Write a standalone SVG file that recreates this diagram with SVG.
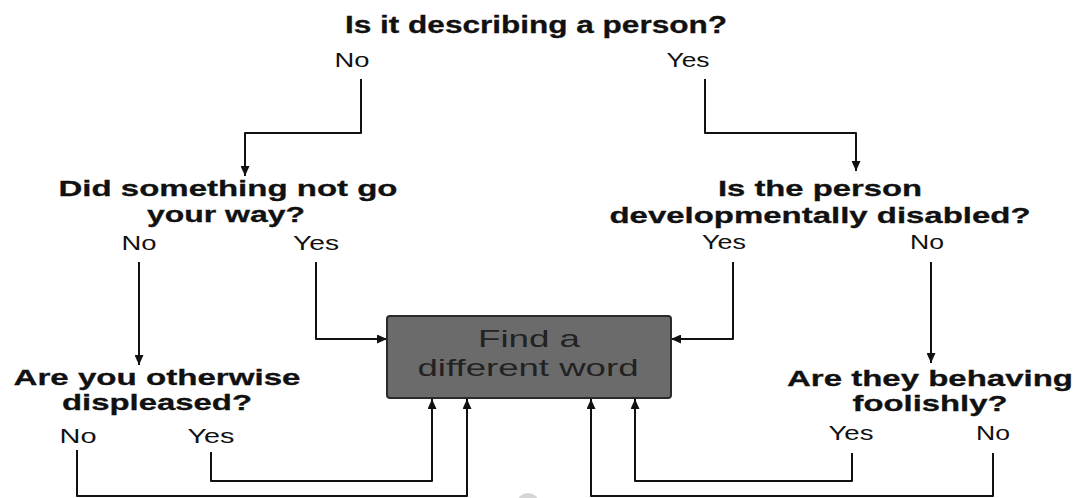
<svg xmlns="http://www.w3.org/2000/svg" width="1092" height="498" viewBox="0 0 1092 498">
<style>
.q{font-family:"Liberation Sans",Arial,sans-serif;font-weight:bold;font-size:22.5px;fill:#111;stroke:#111;stroke-width:0.3;text-anchor:middle}
.t{font-size:23.5px}
.a{font-family:"Liberation Sans",Arial,sans-serif;font-size:20px;fill:#111;text-anchor:middle}
.b{font-family:"Liberation Sans",Arial,sans-serif;font-size:24px;fill:#222;text-anchor:middle}
.c{fill:none;stroke:#111;stroke-width:2;stroke-linejoin:round;marker-end:url(#ah)}
</style>
<defs>
<marker id="ah" markerUnits="userSpaceOnUse" markerWidth="11" markerHeight="9" refX="10" refY="4.5" orient="auto">
<path d="M0,0 L10,4.5 L0,9 z" fill="#111"/>
</marker>
</defs>
<rect width="1092" height="498" fill="#fff"/>
<g id="connectors">
<path class="c" d="M361,79 V133 H245 V176"/>
<path class="c" d="M705,79 V133 H856 V171"/>
<path class="c" d="M139,262 V365"/>
<path class="c" d="M316,262 V339 H387"/>
<path class="c" d="M733,262 V339 H671"/>
<path class="c" d="M931,262 V363"/>
<path class="c" d="M77,450 V496 H467 V399"/>
<path class="c" d="M211,452 V481 H432 V399"/>
<path class="c" d="M852,453 V481 H635 V399"/>
<path class="c" d="M993,453 V496 H591 V399"/>
</g>
<g id="q-person">
<text class="q t" x="536" y="33" textLength="382" lengthAdjust="spacingAndGlyphs">Is it describing a person?</text>
<text class="a" x="352" y="67" textLength="35" lengthAdjust="spacingAndGlyphs">No</text>
<text class="a" x="688" y="67" textLength="43" lengthAdjust="spacingAndGlyphs">Yes</text>
</g>
<g id="q-way">
<text class="q" x="228" y="196" textLength="339" lengthAdjust="spacingAndGlyphs">Did something not go</text>
<text class="q" x="226" y="222" textLength="158" lengthAdjust="spacingAndGlyphs">your way?</text>
<text class="a" x="139" y="250" textLength="35" lengthAdjust="spacingAndGlyphs">No</text>
<text class="a" x="316" y="250" textLength="46" lengthAdjust="spacingAndGlyphs">Yes</text>
</g>
<g id="q-disabled">
<text class="q" x="820" y="196" textLength="204" lengthAdjust="spacingAndGlyphs">Is the person</text>
<text class="q" x="820" y="223" textLength="421" lengthAdjust="spacingAndGlyphs">developmentally disabled?</text>
<text class="a" x="724" y="249" textLength="44" lengthAdjust="spacingAndGlyphs">Yes</text>
<text class="a" x="927" y="249" textLength="34" lengthAdjust="spacingAndGlyphs">No</text>
</g>
<g id="q-displeased">
<text class="q" x="157" y="385" textLength="287" lengthAdjust="spacingAndGlyphs">Are you otherwise</text>
<text class="q" x="157" y="410" textLength="190" lengthAdjust="spacingAndGlyphs">displeased?</text>
<text class="a" x="78" y="443" textLength="37" lengthAdjust="spacingAndGlyphs">No</text>
<text class="a" x="211" y="443" textLength="47" lengthAdjust="spacingAndGlyphs">Yes</text>
</g>
<g id="q-foolish">
<text class="q" x="930" y="386" textLength="286" lengthAdjust="spacingAndGlyphs">Are they behaving</text>
<text class="q" x="930" y="411" textLength="155" lengthAdjust="spacingAndGlyphs">foolishly?</text>
<text class="a" x="851" y="440" textLength="45" lengthAdjust="spacingAndGlyphs">Yes</text>
<text class="a" x="993" y="440" textLength="34" lengthAdjust="spacingAndGlyphs">No</text>
</g>
<g id="find-word">
<rect x="387" y="316" width="284" height="82" rx="3" fill="#6b6b6b" stroke="#2a2a2a" stroke-width="2"/>
<text class="b" x="529" y="347" textLength="102" lengthAdjust="spacingAndGlyphs">Find a</text>
<text class="b" x="528" y="376" textLength="221" lengthAdjust="spacingAndGlyphs">different word</text>
</g>
<ellipse cx="528" cy="503" rx="11" ry="10" fill="#d6d6d6"/>
</svg>
